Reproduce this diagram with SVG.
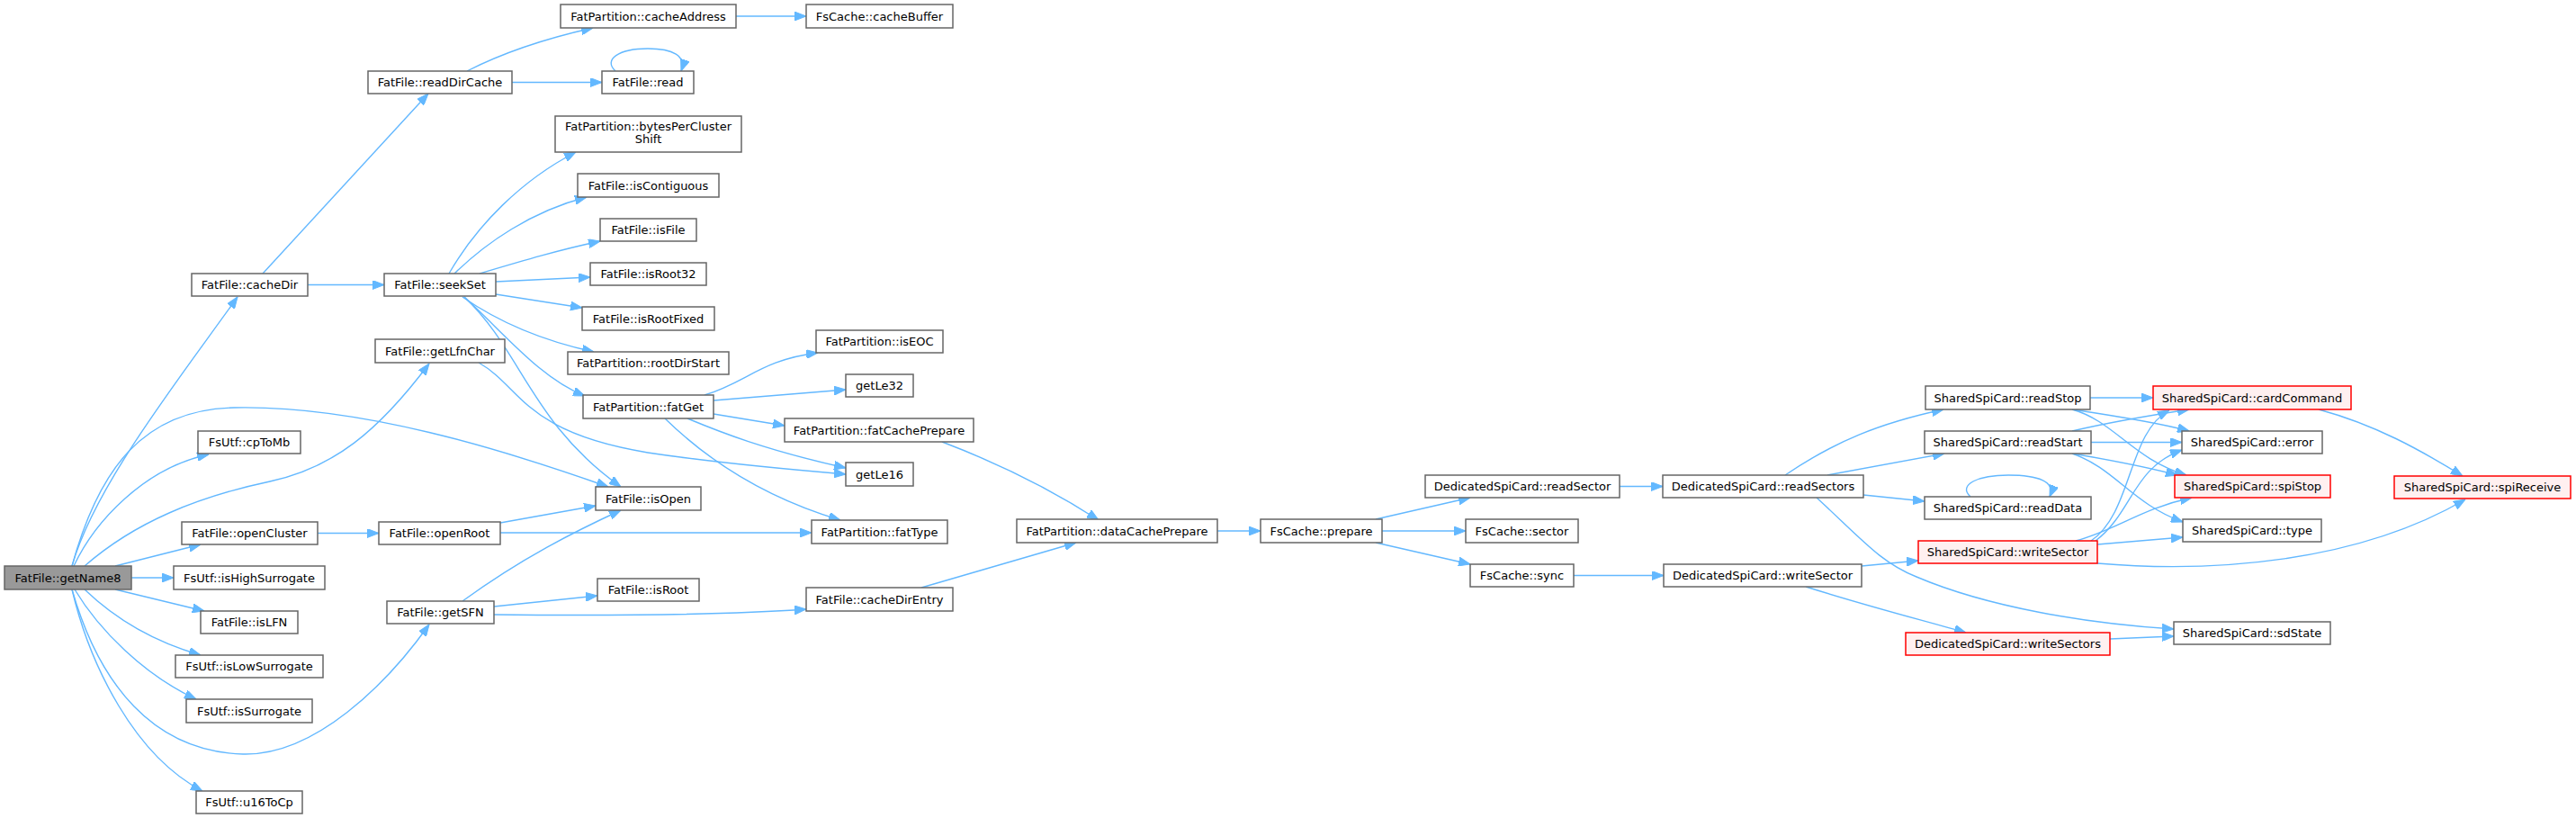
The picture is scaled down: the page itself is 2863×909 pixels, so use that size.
<svg xmlns="http://www.w3.org/2000/svg" width="2863" height="909" viewBox="0 0 2863 909">
<style>
.n rect{fill:#ffffff;stroke:#666666;stroke-width:1.5}
.r rect{fill:#fff0f0;stroke:#ff0000;stroke-width:1.5}
.root rect{fill:#999999;stroke:#666666;stroke-width:1.5}
text{font-family:"DejaVu Sans","Liberation Sans",sans-serif;font-size:13px;text-anchor:middle;fill:#000000}
#edges path{fill:none;stroke:#63b8ff;stroke-width:1.4;marker-end:url(#a)}
</style>
<defs>
<marker id="a" markerWidth="13" markerHeight="10" refX="13" refY="5" orient="auto" markerUnits="userSpaceOnUse"><path d="M0,0 L13,5 L0,10 z" fill="#63b8ff" stroke="#63b8ff" stroke-width="1"/></marker>
</defs>
<rect width="2863" height="909" fill="#ffffff"/>
<g id="edges">
<path d="M80,629 C105,540 200,420 264,330"/>
<path d="M82,629 C105,580 160,520 232,505"/>
<path d="M94,629 C150,580 220,552 300,535 C370,520 420,480 477,404"/>
<path d="M80,655 C110,760 170,835 270,838 C350,840 430,760 477,694"/>
<path d="M146,642 L193,642"/>
<path d="M128,655 L227,679"/>
<path d="M94,655 C120,680 160,710 223,728"/>
<path d="M83,655 C110,700 160,750 218,777"/>
<path d="M80,655 C100,740 150,840 225,879"/>
<path d="M128,629 L223,605"/>
<path d="M80,629 C110,520 160,455 260,453 C400,450 560,500 676,541"/>
<path d="M292,304 L476,104"/>
<path d="M342,316.5 L427,316.5"/>
<path d="M519,79 C560,58 610,42 659,31"/>
<path d="M569,91.5 L669,91.5"/>
<path d="M684,79 C670,66 688,54 720,54 C748,54 763,62 757,79"/>
<path d="M818,18 L896,18"/>
<path d="M499,304 C530,250 580,200 640,169"/>
<path d="M505,304 C540,270 590,235 652,219"/>
<path d="M533,304 C580,290 620,278 667,268"/>
<path d="M551,313 L656,308"/>
<path d="M551,327 L647,342"/>
<path d="M514,330 C550,355 600,378 660,391"/>
<path d="M516,330 C560,370 600,420 650,440"/>
<path d="M516,330 C580,390 590,470 690,541"/>
<path d="M532,403 C580,430 580,480 720,503 C800,515 880,522 940,527"/>
<path d="M783,439 C830,425 845,400 909,392"/>
<path d="M793,445 L940,433"/>
<path d="M793,460 L872,473"/>
<path d="M764,465 C800,480 850,500 940,520"/>
<path d="M739,465 C780,505 840,550 934,578"/>
<path d="M353,592.5 L421,592.5"/>
<path d="M556,581 L662,562"/>
<path d="M556,592 L902,592"/>
<path d="M514,668 C580,620 640,590 690,567"/>
<path d="M549,674 L664,662"/>
<path d="M549,683 C650,684 800,684 896,677"/>
<path d="M1047,491 C1110,515 1170,545 1221,578"/>
<path d="M1024,653 L1196,603"/>
<path d="M1353,590 L1401,590"/>
<path d="M1529,577 L1634,553"/>
<path d="M1536,590 L1629,590"/>
<path d="M1529,603 L1634,627"/>
<path d="M1800,540.5 L1848,540.5"/>
<path d="M1749,639.5 L1849,639.5"/>
<path d="M1984,528 C2040,490 2090,470 2160,455"/>
<path d="M2031,528 L2161,504"/>
<path d="M2071,550 L2139,557"/>
<path d="M2019,553 C2070,600 2090,625 2130,641 C2210,675 2320,693 2416,699"/>
<path d="M2069,629 L2132,623"/>
<path d="M2007,652 C2080,675 2140,690 2185,703"/>
<path d="M2345,710 L2416,707"/>
<path d="M2323,442 L2393,442"/>
<path d="M2303,455 C2350,462 2400,470 2433,479"/>
<path d="M2303,455 C2350,468 2370,510 2430,528"/>
<path d="M2303,479 C2350,468 2400,460 2433,455"/>
<path d="M2324,491.5 L2425,491.5"/>
<path d="M2303,504 C2350,512 2390,520 2420,528"/>
<path d="M2303,504 C2350,520 2370,560 2426,580"/>
<path d="M2324,601 C2370,570 2365,480 2411,456"/>
<path d="M2329,601 C2370,570 2370,520 2425,500"/>
<path d="M2307,601 C2350,590 2380,565 2436,553"/>
<path d="M2331,605 L2426,597"/>
<path d="M2331,626 C2460,637 2620,625 2740,555"/>
<path d="M2577,455 C2640,472 2690,500 2737,529"/>
<path d="M2190,552 C2175,538 2200,528 2232,528 C2265,528 2285,535 2278,552"/>
</g>
<g id="n_getName8" class="root"><rect x="5" y="629" width="141" height="26"/><text x="75.5" y="646.5">FatFile::getName8</text></g>
<g id="n_cacheDir" class="n"><rect x="213" y="304" width="129" height="25"/><text x="277.5" y="321">FatFile::cacheDir</text></g>
<g id="n_cpToMb" class="n"><rect x="220" y="479" width="114" height="25"/><text x="277" y="496">FsUtf::cpToMb</text></g>
<g id="n_openCluster" class="n"><rect x="202" y="580" width="151" height="25"/><text x="277.5" y="597">FatFile::openCluster</text></g>
<g id="n_isHighSurrogate" class="n"><rect x="193" y="629" width="168" height="26"/><text x="277" y="646.5">FsUtf::isHighSurrogate</text></g>
<g id="n_isLFN" class="n"><rect x="223" y="679" width="108" height="25"/><text x="277" y="696">FatFile::isLFN</text></g>
<g id="n_isLowSurrogate" class="n"><rect x="195" y="728" width="164" height="25"/><text x="277" y="745">FsUtf::isLowSurrogate</text></g>
<g id="n_isSurrogate" class="n"><rect x="207" y="777" width="140" height="26"/><text x="277" y="794.5">FsUtf::isSurrogate</text></g>
<g id="n_u16ToCp" class="n"><rect x="218" y="879" width="118" height="25"/><text x="277" y="896">FsUtf::u16ToCp</text></g>
<g id="n_readDirCache" class="n"><rect x="409" y="79" width="160" height="25"/><text x="489" y="96">FatFile::readDirCache</text></g>
<g id="n_seekSet" class="n"><rect x="427" y="304" width="124" height="25"/><text x="489" y="321">FatFile::seekSet</text></g>
<g id="n_getLfnChar" class="n"><rect x="417" y="377" width="144" height="26"/><text x="489" y="394.5">FatFile::getLfnChar</text></g>
<g id="n_openRoot" class="n"><rect x="421" y="580" width="135" height="25"/><text x="488.5" y="597">FatFile::openRoot</text></g>
<g id="n_getSFN" class="n"><rect x="430" y="668" width="119" height="25"/><text x="489.5" y="685">FatFile::getSFN</text></g>
<g id="n_cacheAddress" class="n"><rect x="623" y="5" width="195" height="26"/><text x="720.5" y="22.5">FatPartition::cacheAddress</text></g>
<g id="n_read" class="n"><rect x="669" y="79" width="102" height="25"/><text x="720" y="96">FatFile::read</text></g>
<g id="n_bytesPerClusterShift" class="n"><rect x="617" y="129" width="207" height="40"/><text x="720.5" y="144.5">FatPartition::bytesPerCluster</text><text x="720.5" y="158.5">Shift</text></g>
<g id="n_isContiguous" class="n"><rect x="642" y="193" width="157" height="26"/><text x="720.5" y="210.5">FatFile::isContiguous</text></g>
<g id="n_isFile" class="n"><rect x="667" y="243" width="107" height="25"/><text x="720.5" y="260">FatFile::isFile</text></g>
<g id="n_isRoot32" class="n"><rect x="656" y="292" width="129" height="25"/><text x="720.5" y="309">FatFile::isRoot32</text></g>
<g id="n_isRootFixed" class="n"><rect x="647" y="341" width="147" height="26"/><text x="720.5" y="358.5">FatFile::isRootFixed</text></g>
<g id="n_rootDirStart" class="n"><rect x="631" y="391" width="179" height="25"/><text x="720.5" y="408">FatPartition::rootDirStart</text></g>
<g id="n_fatGet" class="n"><rect x="648" y="439" width="145" height="26"/><text x="720.5" y="456.5">FatPartition::fatGet</text></g>
<g id="n_isOpen" class="n"><rect x="662" y="541" width="117" height="26"/><text x="720.5" y="558.5">FatFile::isOpen</text></g>
<g id="n_isRoot" class="n"><rect x="664" y="643" width="113" height="25"/><text x="720.5" y="660">FatFile::isRoot</text></g>
<g id="n_cacheBuffer" class="n"><rect x="896" y="5" width="163" height="26"/><text x="977.5" y="22.5">FsCache::cacheBuffer</text></g>
<g id="n_isEOC" class="n"><rect x="907" y="367" width="141" height="25"/><text x="977.5" y="384">FatPartition::isEOC</text></g>
<g id="n_getLe32" class="n"><rect x="940" y="416" width="75" height="25"/><text x="977.5" y="433">getLe32</text></g>
<g id="n_fatCachePrepare" class="n"><rect x="872" y="465" width="210" height="26"/><text x="977" y="482.5">FatPartition::fatCachePrepare</text></g>
<g id="n_getLe16" class="n"><rect x="940" y="514" width="75" height="26"/><text x="977.5" y="531.5">getLe16</text></g>
<g id="n_fatType" class="n"><rect x="902" y="578" width="151" height="26"/><text x="977.5" y="595.5">FatPartition::fatType</text></g>
<g id="n_cacheDirEntry" class="n"><rect x="896" y="653" width="163" height="26"/><text x="977.5" y="670.5">FatFile::cacheDirEntry</text></g>
<g id="n_dataCachePrepare" class="n"><rect x="1130" y="577" width="223" height="26"/><text x="1241.5" y="594.5">FatPartition::dataCachePrepare</text></g>
<g id="n_prepare" class="n"><rect x="1401" y="577" width="135" height="26"/><text x="1468.5" y="594.5">FsCache::prepare</text></g>
<g id="n_readSector" class="n"><rect x="1584" y="528" width="216" height="25"/><text x="1692" y="545">DedicatedSpiCard::readSector</text></g>
<g id="n_sector" class="n"><rect x="1629" y="577" width="125" height="26"/><text x="1691.5" y="594.5">FsCache::sector</text></g>
<g id="n_sync" class="n"><rect x="1634" y="627" width="115" height="25"/><text x="1691.5" y="644">FsCache::sync</text></g>
<g id="n_readSectors" class="n"><rect x="1848" y="528" width="223" height="25"/><text x="1959.5" y="545">DedicatedSpiCard::readSectors</text></g>
<g id="n_writeSectorD" class="n"><rect x="1849" y="627" width="220" height="25"/><text x="1959" y="644">DedicatedSpiCard::writeSector</text></g>
<g id="n_readStop" class="n"><rect x="2140" y="429" width="183" height="26"/><text x="2231.5" y="446.5">SharedSpiCard::readStop</text></g>
<g id="n_readStart" class="n"><rect x="2139" y="479" width="185" height="25"/><text x="2231.5" y="496">SharedSpiCard::readStart</text></g>
<g id="n_readData" class="n"><rect x="2139" y="552" width="185" height="25"/><text x="2231.5" y="569">SharedSpiCard::readData</text></g>
<g id="n_writeSectorS" class="r"><rect x="2132" y="601" width="199" height="25"/><text x="2231.5" y="618">SharedSpiCard::writeSector</text></g>
<g id="n_writeSectors" class="r"><rect x="2118" y="703" width="227" height="25"/><text x="2231.5" y="720">DedicatedSpiCard::writeSectors</text></g>
<g id="n_cardCommand" class="r"><rect x="2393" y="429" width="220" height="26"/><text x="2503" y="446.5">SharedSpiCard::cardCommand</text></g>
<g id="n_error" class="n"><rect x="2425" y="479" width="156" height="25"/><text x="2503" y="496">SharedSpiCard::error</text></g>
<g id="n_spiStop" class="r"><rect x="2417" y="528" width="173" height="25"/><text x="2503.5" y="545">SharedSpiCard::spiStop</text></g>
<g id="n_type" class="n"><rect x="2426" y="577" width="154" height="25"/><text x="2503" y="594">SharedSpiCard::type</text></g>
<g id="n_sdState" class="n"><rect x="2416" y="691" width="174" height="25"/><text x="2503" y="708">SharedSpiCard::sdState</text></g>
<g id="n_spiReceive" class="r"><rect x="2661" y="529" width="196" height="25"/><text x="2759" y="546">SharedSpiCard::spiReceive</text></g>
</svg>
